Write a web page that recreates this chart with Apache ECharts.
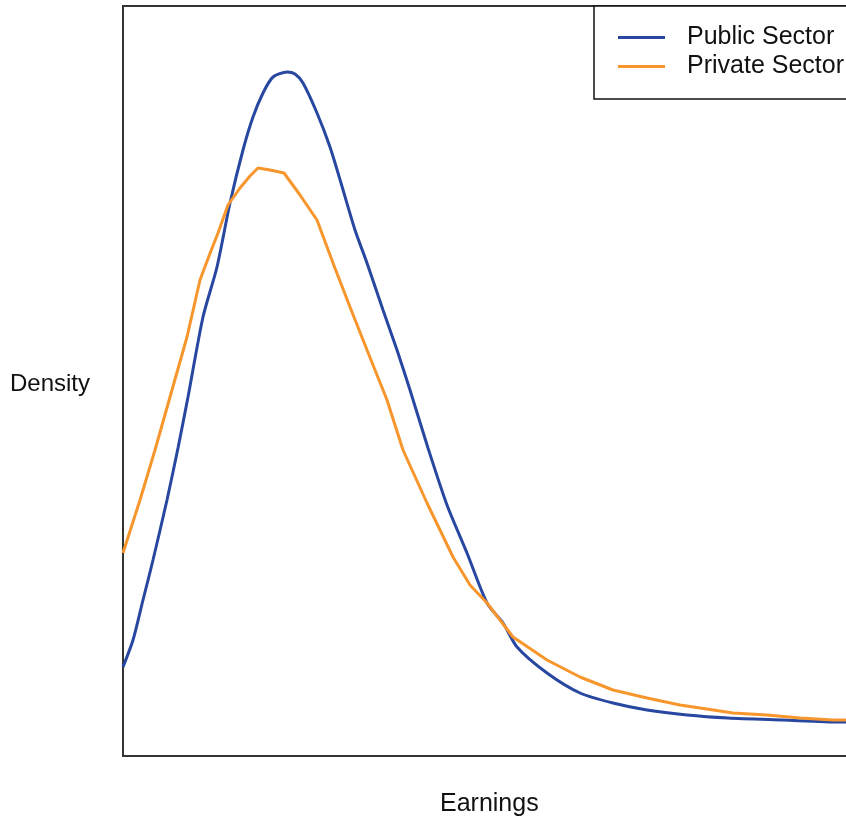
<!DOCTYPE html>
<html>
<head>
<meta charset="utf-8">
<script src="https://cdn.jsdelivr.net/npm/echarts@6/dist/echarts.min.js"></script>
<style>html,body{margin:0;padding:0;background:#fff;}#c{width:846px;height:816px;}</style>
</head>
<body>
<div id="c"></div>
<script>
// Earnings (arbitrary units) and density (arbitrary units)
var publicEarnings = [0,10,20,30,44,55,65,80,94,107,120,130,140,150,164,172,180,194,207,218,232,244,260,274,287,305,324,344,364,380,394,424,457,490,524,564,605,660,717,723];
var publicDensity  = [89,116,156,196,256,308,359,439,489,553,606,639,663,679,684,682,673,643,609,573,526,493,446,406,366,308,251,203,153,133,109,83,63,53,46,41,38,36,34,34];
var privateEarnings = [0,17,32,47,64,77,86,95,105,117,127,135,147,161,177,194,210,227,244,264,280,304,330,347,364,390,424,457,490,524,557,577,610,644,677,710,723];
var privateDensity  = [203,256,306,359,419,476,500,523,551,568,580,588,586,583,561,536,493,449,406,356,306,253,199,171,153,119,96,79,66,58,51,48,43,41,38,36,36];

var nameX = 'Earnings';
var nameY = 'Density';
var seriesNames = ['Public Sector', 'Private Sector'];

function pairs(xs, ys){ return xs.map(function(x,i){ return [x, ys[i]]; }); }

var chart = echarts.init(document.getElementById('c'), null, {renderer:'canvas'});
var font = '"Liberation Sans", Arial, sans-serif';
chart.setOption({
  animation: false,
  backgroundColor: '#fff',
  grid: {left: 123, top: 6, width: 734, height: 750, show: true, borderColor: '#333', borderWidth: 2, backgroundColor: 'transparent', outerBoundsMode: 'none', containLabel: false},
  xAxis: {type: 'value', min: 0, max: 734, axisLine: {show: false}, axisTick: {show: false}, axisLabel: {show: false}, splitLine: {show: false}},
  yAxis: {type: 'value', min: 0, max: 750, axisLine: {show: false}, axisTick: {show: false}, axisLabel: {show: false}, splitLine: {show: false}},
  legend: {
    left: 594, top: 6, orient: 'vertical',
    padding: [17, 40, 18, 24],
    itemGap: 0, itemWidth: 47, itemHeight: 3, icon: 'rect',
    borderColor: '#111', borderWidth: 1.5, backgroundColor: '#fff',
    textStyle: {fontFamily: font, fontSize: 25, color: '#111', lineHeight: 29, padding: [0,0,0,17]},
    data: seriesNames
  },
  graphic: [
    {type: 'text', left: 10, top: 372, style: {text: nameY, font: '24px ' + font, fill: '#111'}},
    {type: 'text', left: 440, top: 792, style: {text: nameX, font: '25px ' + font, fill: '#111'}}
  ],
  series: [
    {name: seriesNames[0], type: 'line', showSymbol: false, smooth: 0.25, lineStyle: {color: '#2747a0', width: 3}, itemStyle: {color: '#2747a0'}, data: pairs(publicEarnings, publicDensity)},
    {name: seriesNames[1], type: 'line', showSymbol: false, smooth: false, lineStyle: {color: '#f7962c', width: 3}, itemStyle: {color: '#f7962c'}, data: pairs(privateEarnings, privateDensity)}
  ]
});
</script>
</body>
</html>
